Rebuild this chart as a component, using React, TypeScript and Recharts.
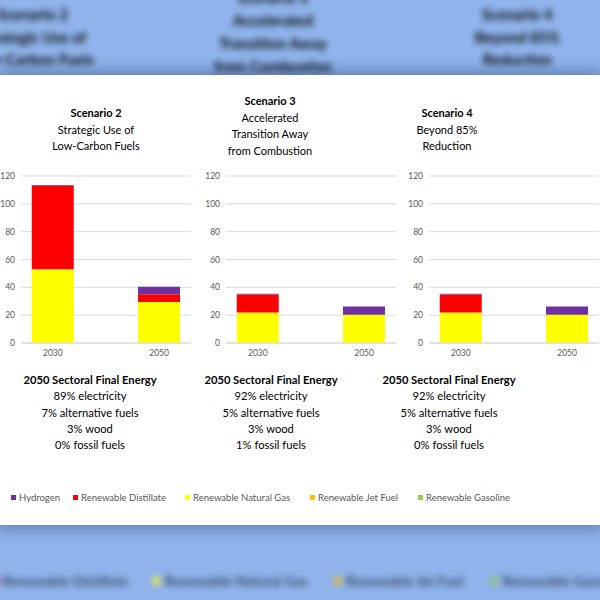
import React from 'react';
import { BarChart, Bar, XAxis, YAxis, CartesianGrid } from 'recharts';

const years = [2030, 2050];
const yTicks = [0, 20, 40, 60, 80, 100, 120];

const scenarioNames = ['Scenario 2', 'Scenario 3', 'Scenario 4'];
const scenarioSubtitles = [
  ['Strategic Use of', 'Low-Carbon Fuels'],
  ['Accelerated', 'Transition Away', 'from Combustion'],
  ['Beyond 85%', 'Reduction'],
];

// values per scenario: [2030, 2050]
const hydrogen = [[0.6, 5.4], [0.5, 5.9], [0.5, 5.9]];
const renewableDistillate = [[60, 5.7], [12.9, 0], [12.9, 0]];
const renewableNaturalGas = [[53, 29.4], [21.9, 20.3], [21.9, 20.3]];
const renewableJetFuel = [[0, 0], [0, 0], [0, 0]];
const renewableGasoline = [[0, 0], [0, 0], [0, 0]];

const electricityShare = [89, 92, 92];
const altFuelShare = [7, 5, 5];
const woodShare = [3, 3, 3];
const fossilShare = [0, 1, 0];

const seriesKeys = ['hydrogen', 'distillate', 'naturalGas', 'jetFuel', 'gasoline'];
const seriesNames = ['Hydrogen', 'Renewable Distillate', 'Renewable Natural Gas', 'Renewable Jet Fuel', 'Renewable Gasoline'];
const seriesColors = ['#7030A0', '#FF0000', '#FFFF00', '#FFC000', '#92D050'];
// stacked bottom -> top
const stackOrder = [2, 1, 0, 3, 4];

const FONT = 'Lato, "Open Sans", sans-serif';
const GRID = '#d9d9d9';
const TICK = '#595959';

const gridLefts = [21, 226, 429];
const titleCenters = [96, 270, 447];
const titleTops = [105, 93, 105];
const noteCenters = [90, 271, 449];
const legendLefts = [11, 73, 185, 310, 418];

function buildData(i: number) {
  return years.map((year, j) => ({
    year,
    hydrogen: hydrogen[i][j],
    distillate: renewableDistillate[i][j],
    naturalGas: renewableNaturalGas[i][j],
    jetFuel: renewableJetFuel[i][j],
    gasoline: renewableGasoline[i][j],
  }));
}

function ScenarioChart({ i }: { i: number }) {
  return (
    <div style={{ position: 'absolute', left: gridLefts[i] - 20, top: 166 }}>
      <BarChart
        width={190}
        height={200}
        data={buildData(i)}
        margin={{ top: 10, right: 0, bottom: 0, left: 0 }}
      >
        <CartesianGrid vertical={false} stroke={GRID} />
        <XAxis
          dataKey="year"
          type="number"
          domain={[2024, 2056]}
          ticks={years}
          height={23}
          tickLine={false}
          axisLine={{ stroke: GRID }}
          tickSize={0}
          tickMargin={7}
          tick={{ fontSize: 8.5, fill: TICK, fontFamily: FONT }}
        />
        <YAxis
          domain={[0, 120]}
          ticks={yTicks}
          width={20}
          tickLine={false}
          axisLine={false}
          tickSize={0}
          tickMargin={6}
          tick={{ fontSize: 8.5, fill: TICK, fontFamily: FONT }}
        />
        {stackOrder.map((s) => (
          <Bar
            key={seriesKeys[s]}
            dataKey={seriesKeys[s]}
            name={seriesNames[s]}
            stackId="a"
            fill={seriesColors[s]}
            barSize={42}
            isAnimationActive={false}
          />
        ))}
      </BarChart>
    </div>
  );
}

function Titles({ heavy = false }: { heavy?: boolean }) {
  return (
    <>
      {scenarioNames.map((name, i) => (
        <div
          key={name}
          style={{
            position: 'absolute', left: titleCenters[i] - 100, top: titleTops[i], width: 200,
            textAlign: 'center', fontSize: 11, lineHeight: '16.5px', color: '#000',
            fontWeight: heavy ? 700 : 400,
          }}
        >
          <div style={{ fontWeight: 700 }}>{name}</div>
          {scenarioSubtitles[i].map((s) => <div key={s}>{s}</div>)}
        </div>
      ))}
    </>
  );
}

function Notes() {
  return (
    <>
      {scenarioNames.map((name, i) => (
        <div
          key={name}
          style={{
            position: 'absolute', left: noteCenters[i] - 95, top: 372, width: 190,
            textAlign: 'center', fontSize: 11.2, lineHeight: '16.3px', color: '#000',
          }}
        >
          <div style={{ fontWeight: 700 }}>2050 Sectoral Final Energy</div>
          <div>{electricityShare[i]}% electricity</div>
          <div>{altFuelShare[i]}% alternative fuels</div>
          <div>{woodShare[i]}% wood</div>
          <div>{fossilShare[i]}% fossil fuels</div>
        </div>
      ))}
    </>
  );
}

function LegendRow({ color = TICK, heavy = false }: { color?: string; heavy?: boolean }) {
  return (
    <>
      {seriesNames.map((name, s) => (
        <div
          key={name}
          style={{
            position: 'absolute', left: legendLefts[s], top: 490, height: 14,
            display: 'flex', alignItems: 'center', whiteSpace: 'nowrap',
            fontSize: 9.5, color, fontWeight: heavy ? 700 : 400,
          }}
        >
          <span style={{ width: 5, height: 5, background: seriesColors[s], marginRight: 3, display: 'inline-block' }} />
          {name}
        </div>
      ))}
    </>
  );
}

export default function App() {
  return (
    <div
      style={{
        position: 'fixed', left: 0, top: 0, width: 600, height: 600, overflow: 'hidden',
        background: '#8fb3ea', fontFamily: FONT,
      }}
    >
      {/* blurred, enlarged copy of the slide behind the panel */}
      <div
        style={{
          position: 'absolute', left: 0, top: 0, width: 600, height: 600,
          transformOrigin: '0 0', transform: 'translate(-99.6px, -141.9px) scale(1.38)',
          filter: 'blur(2.2px)', opacity: 0.95,
        }}
      >
        <Titles heavy />
      </div>
      <div
        style={{
          position: 'absolute', left: 0, top: 0, width: 600, height: 600,
          transformOrigin: '0 0', transform: 'translate(-115.25px, -140.65px) scale(1.45)',
          filter: 'blur(2.2px)', opacity: 0.85,
        }}
      >
        <LegendRow color="#2a3550" heavy />
      </div>

      <div
        style={{
          position: 'absolute', left: 0, top: 75, width: 600, height: 450, background: '#fff',
          boxShadow: '0 0 14px 3px rgba(30,50,100,0.45)',
        }}
      />
      <Titles />
      {scenarioNames.map((name, i) => <ScenarioChart key={name} i={i} />)}
      <Notes />
      <LegendRow />
    </div>
  );
}
